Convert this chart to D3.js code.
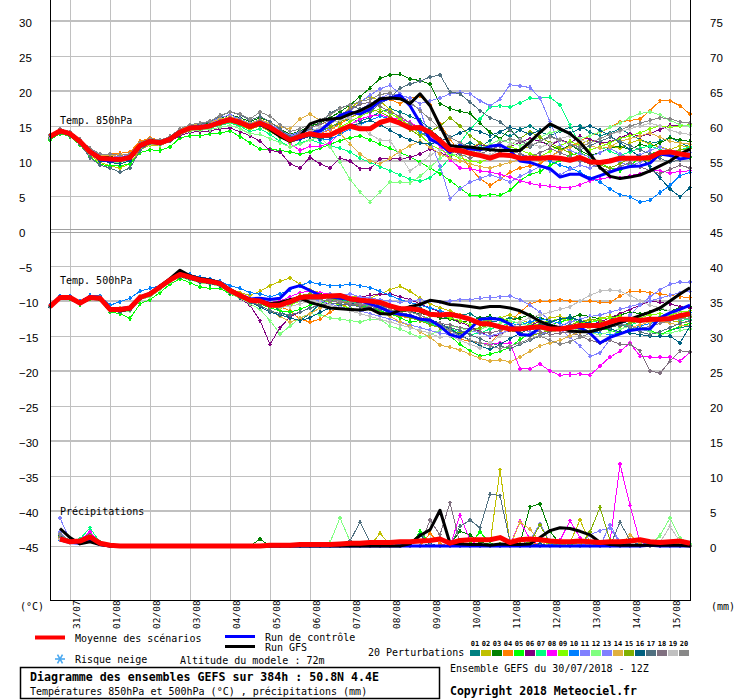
<!DOCTYPE html>
<html>
<head>
<meta charset="utf-8">
<script src="https://cdn.jsdelivr.net/npm/d3@7"></script>
<style>
body { margin: 0; background: #fff; }
svg { display: block; }
text { font-family: "DejaVu Sans Mono", monospace; font-size: 10px; fill: #000; }
</style>
</head>
<body>
<svg id="chart" width="740" height="700"></svg>
<script>
// time steps: every 6h from 30/07 12Z, 384h
var hours = d3.range(0, 385, 6);
var dayTicks = d3.range(12, 384, 24);
var dayLabels = ["31/07","01/08","02/08","03/08","04/08","05/08","06/08","07/08","08/08","09/08","10/08","11/08","12/08","13/08","14/08","15/08"];
var leftTicks = d3.range(30, -50, -5);
var rightTicks = d3.range(75, -5, -5);
var pertNames = d3.range(1, 21).map(function (d) { return d3.format("02d")(d); });
var pertColors = ["#008080","#c0c000","#008000","#ff8000","#00ff00","#800080","#00ff80","#ff00ff","#80ff00","#0080ff",
                  "#8080ff","#80ff80","#8080ff","#e0b040","#80b000","#006080","#507080","#807080","#c0c0c0","#888888"];

// temperature 850hPa (°C)
var t850Mean = [13.5,14.3,13.9,12.8, 11.3,10.4,10.3,10.2, 10.5,12.2,12.8,12.6, 13.1,14.1,14.7,14.8, 15.0,15.5,15.9,15.5, 14.9,15.4,14.8,13.9, 13.0,13.5,13.9,13.6, 13.7,14.4,15.0,14.6, 14.6,15.5,15.9,15.4, 14.7,14.8,14.1,12.9, 11.6,11.5,11.1,10.8, 10.4,10.9,10.8,10.4, 10.4,10.4,10.5,10.4, 10.1,10.5,9.9,9.8, 10.0,10.4,10.4,10.4, 10.5,11.2,11.3,11.0, 10.8];
var t850Ctrl = [13.3,14.4,13.9,12.9, 11.2,10.2,10.0,10.1, 10.3,12.0,12.7,12.5, 13.0,14.0,14.8,14.9, 15.0,15.6,16.0,15.6, 15.0,15.2,14.6,13.6, 12.9,13.2,13.9,14.3, 15.5,16.5,17.0,16.7, 17.4,18.6,19.0,19.4, 17.9,15.5,13.1,12.4, 11.2,12.2,11.7,11.6, 12.1,12.3,11.5,10.0, 9.8,9.3,8.9,7.7, 8.1,8.1,7.4,7.9, 8.4,8.9,9.2,9.3, 9.7,11.0,10.8,10.3, 10.5];
var t850Gfs = [13.4,14.3,13.8,12.7, 11.4,10.5,10.4,10.3, 10.6,12.3,12.9,12.7, 13.2,14.2,14.7,14.8, 15.1,15.6,15.8,15.4, 14.8,15.3,14.5,13.5, 12.8,13.5,15.3,15.8, 16.0,16.1,16.7,17.2, 17.9,18.9,19.0,18.9, 18.2,19.6,17.9,15.0, 12.2,12.0,12.0,11.8, 11.6,11.5,11.5,11.5, 12.7,14.1,15.3,14.6, 13.9,12.7,11.0,9.1, 7.8,7.5,7.7,8.0, 8.6,9.3,10.0,11.0, 11.7];
var t850Pert = [
  [13.4,14.5,14.0,12.9, 11.5,10.6,10.6,10.4, 10.8,12.5,13.2,12.9, 13.4,14.6,15.0,15.1, 15.3,15.8,16.2,15.8, 15.2,15.6,15.0,14.3, 13.6,14.0,14.6,14.2, 14.8,15.4,16.0,15.7, 16.2,17.0,17.5,17.0, 16.4,15.8,14.6,13.2, 12.0,12.2,12.6,12.0, 12.9,14.1,13.5,14.5, 15.0,14.2,13.6,14.3, 14.8,15.0,14.1,13.6, 14.0,14.6,13.8,13.1, 12.5,12.8,13.4,12.6, 12.0],
  [13.2,14.0,13.6,12.4, 10.8,9.8,9.3,9.0, 9.6,11.6,12.3,12.2, 12.8,13.8,14.4,14.6, 14.9,15.2,15.6,15.1, 14.5,15.0,14.2,13.4, 12.6,13.1,13.8,14.5, 15.2,16.4,17.6,18.5, 19.2,18.6,17.3,16.1, 15.0,14.1,13.2,12.6, 12.0,11.4,11.8,12.6, 12.0,11.2,10.9,11.6, 12.1,12.8,12.2,11.6, 12.0,12.4,13.0,12.6, 12.2,11.8,12.6,13.0, 12.4,12.0,11.6,12.2, 12.0],
  [13.6,14.4,14.1,13.0, 11.6,10.7,10.6,10.5, 10.9,12.6,13.1,13.0, 13.5,14.4,15.1,15.2, 15.4,16.1,16.6,16.2, 15.6,16.2,15.6,14.6, 13.8,14.3,15.0,15.4, 16.2,17.0,18.0,19.2, 20.4,21.8,22.3,22.4, 21.7,21.5,21.0,18.2, 17.5,17.1,16.8,15.4, 14.1,13.2,14.5,13.0, 12.1,12.8,12.3,11.6, 12.3,11.5,10.8,11.2, 11.9,12.1,11.6,12.4, 12.0,12.6,13.3,13.0, 12.8],
  [13.5,14.2,13.8,12.9, 11.4,10.8,11.0,11.1, 11.3,12.8,13.3,13.0, 13.2,14.3,14.8,15.0, 15.2,15.7,16.0,15.6, 15.1,15.6,15.0,14.0, 13.2,13.9,14.5,14.0, 14.4,15.3,16.2,16.9, 17.6,18.5,18.8,18.2, 19.0,19.3,18.0,15.3, 13.2,11.0,9.0,7.5, 6.5,7.4,8.4,9.0, 9.3,9.6,10.6,11.5, 12.0,12.8,13.6,14.1, 14.8,15.6,15.8,16.0, 17.2,18.6,18.6,17.9, 16.7],
  [13.0,13.9,13.5,12.3, 10.6,9.5,9.3,9.3, 9.6,11.2,11.6,11.5, 12.0,13.3,13.6,13.6, 13.9,14.0,14.3,13.5, 12.6,11.7,11.7,11.5, 11.3,11.0,11.3,11.8, 12.4,12.9,13.3,13.6, 13.0,12.4,11.8,11.2, 10.6,9.8,9.0,8.2, 7.2,6.1,5.1,5.0, 5.2,5.1,5.8,7.2, 8.1,8.5,9.4,10.1, 10.8,11.2,10.5,9.7, 9.0,8.6,9.5,10.3, 11.0,11.4,10.8,10.2, 10.5],
  [13.4,14.2,13.7,12.6, 11.1,10.2,10.0,9.9, 10.2,11.9,12.4,12.3, 12.8,13.6,14.1,14.2, 14.3,14.6,14.7,14.2, 13.6,12.8,11.5,11.3, 9.6,9.0,10.5,9.6, 9.0,10.4,10.0,8.9, 8.9,10.3,10.3,10.3, 10.5,11.0,11.7,11.2, 10.6,11.2,11.8,12.4, 11.9,11.4,12.0,12.7, 13.2,12.8,12.2,13.0, 12.6,13.5,13.1,12.6, 12.7,13.3,13.9,13.5, 13.9,14.5,15.1,15.0, 15.1],
  [13.3,14.3,13.9,12.8, 11.2,10.1,9.9,9.8, 10.1,12.0,12.7,12.4, 12.9,13.9,14.4,14.5, 14.7,15.1,15.4,15.0, 14.2,14.6,13.8,12.8, 12.0,12.6,13.0,12.6, 12.2,11.8,11.3,10.4, 9.8,9.2,8.6,8.0, 7.4,7.1,7.6,8.8, 10.5,12.6,14.5,16.0, 17.7,17.9,17.7,18.3, 19.0,19.0,19.1,18.0, 15.2,12.2,11.6,12.0, 11.4,10.8,11.3,11.8, 12.2,11.6,11.0,11.6, 12.0],
  [13.6,14.4,13.9,12.8, 11.3,10.5,10.4,10.3, 10.6,12.3,12.9,12.8, 13.2,14.3,14.9,15.0, 15.2,15.8,16.3,15.8, 15.1,15.7,14.9,13.6, 12.5,11.5,12.1,12.1, 12.6,14.0,15.2,16.0, 16.4,16.6,16.2,16.0, 15.5,14.8,13.6,12.2, 10.2,9.0,8.9,8.6, 8.4,8.1,7.7,7.2, 6.8,6.5,6.4,6.2, 6.2,6.6,7.2,7.4, 7.7,7.6,7.9,8.2, 8.6,8.6,8.3,8.5, 8.6],
  [13.4,14.3,13.9,12.7, 11.2,10.4,10.2,10.0, 10.3,12.1,12.6,12.5, 13.0,14.0,14.5,14.6, 14.8,15.4,15.7,15.3, 14.7,15.0,14.6,13.6, 12.6,13.2,13.6,13.2, 13.6,14.8,15.6,16.4, 17.0,17.4,16.8,16.0, 15.0,13.8,12.4,11.6, 11.0,10.4,10.0,9.8, 10.4,11.2,12.0,11.6, 11.0,10.6,11.4,12.2, 12.8,12.2,11.6,12.0, 12.6,13.2,13.6,14.0, 14.6,15.0,14.8,15.0, 15.2],
  [13.5,14.3,14.0,12.9, 11.4,10.5,10.4,10.2, 10.5,12.3,12.9,12.6, 13.1,14.2,14.8,14.9, 15.1,15.6,16.1,15.6, 15.0,15.5,14.9,13.8, 12.9,13.3,13.7,13.0, 13.1,13.8,14.6,15.2, 15.8,16.4,16.0,15.6, 15.0,14.2,13.2,12.4, 12.1,12.3,11.8,12.0, 11.7,11.2,11.6,11.0, 10.2,10.6,10.0,9.4, 9.0,8.4,7.6,7.0, 6.0,5.2,4.9,4.1, 4.4,5.5,6.5,7.9, 8.4],
  [13.6,14.6,14.2,13.1, 11.8,10.8,10.8,10.6, 10.9,12.5,13.0,12.9, 13.5,14.4,15.0,15.3, 15.6,16.2,16.6,16.0, 15.4,15.9,15.3,14.4, 13.7,14.2,14.6,14.5, 14.8,15.6,16.4,17.4, 18.2,19.0,19.6,19.4, 19.0,18.2,18.6,19.0, 19.6,19.8,19.6,18.6, 17.9,18.8,20.9,20.7, 20.5,19.0,15.6,12.2, 11.5,11.0,10.6,11.2, 11.8,11.0,10.4,10.9, 11.5,12.0,11.4,11.0, 11.2],
  [13.3,14.1,13.7,12.6, 11.0,10.1,9.9,9.8, 10.1,11.8,12.4,12.3, 12.8,13.8,14.3,14.4, 14.5,14.8,15.1,14.6, 13.9,13.8,13.2,12.6, 12.0,12.4,13.0,13.4, 12.0,9.8,7.4,5.6, 4.1,5.6,7.0,7.0, 6.9,7.8,9.1,10.4, 11.2,10.6,11.0,11.8, 12.4,13.0,12.6,12.2, 12.8,13.4,14.0,14.4, 13.8,13.2,13.6,14.2, 14.8,15.4,16.2,16.8, 17.0,16.6,15.8,15.2, 15.0],
  [13.7,14.6,14.1,13.0, 11.6,10.6,10.5,10.4, 10.7,12.4,13.0,12.8, 13.3,14.3,14.9,15.1, 15.3,15.9,16.4,15.9, 15.3,15.8,15.2,14.2, 13.5,14.0,14.4,14.0, 14.6,15.8,17.0,18.4, 19.4,20.3,20.8,19.6, 18.2,17.4,13.0,9.3, 4.6,6.0,7.0,7.5, 8.0,7.6,7.0,7.8, 8.5,9.2,8.6,8.0, 8.8,9.4,9.0,9.6, 10.2,9.8,9.3,9.8, 10.4,10.9,11.3,11.6, 11.8],
  [13.5,14.4,14.0,12.9, 11.5,10.7,10.8,10.9, 11.0,12.5,13.0,12.9, 13.4,14.5,15.1,15.3, 15.5,16.0,16.3,15.9, 15.3,15.9,15.4,14.9, 14.6,16.0,16.7,15.8, 15.1,14.0,12.4,11.0, 10.0,9.6,10.4,11.4, 12.2,12.8,12.0,11.0, 10.4,10.0,9.6,9.2, 9.0,9.4,9.8,10.2, 10.4,10.0,10.6,11.4, 12.0,12.6,12.2,11.8, 12.0,12.8,13.2,13.6, 14.0,13.4,12.8,12.6, 12.4],
  [13.4,14.2,13.8,12.7, 11.3,10.3,10.1,10.0, 10.3,12.0,12.6,12.4, 12.9,13.9,14.5,14.6, 14.9,15.3,15.7,15.3, 14.8,15.2,14.5,13.5, 12.8,13.3,14.0,14.4, 14.8,15.6,16.2,16.8, 17.5,17.0,16.3,15.4, 14.5,13.6,14.2,15.0, 16.2,15.0,13.6,12.6, 12.0,11.4,12.2,13.2, 14.2,13.4,12.6,11.8, 11.2,10.6,9.8,9.4, 9.0,9.6,10.4,10.2, 10.0,10.6,11.2,11.6, 11.8],
  [13.5,14.3,13.8,12.7, 11.1,10.0,9.8,9.6, 10.0,11.9,12.6,12.5, 13.0,14.1,14.7,14.8, 15.0,15.4,15.8,15.4, 14.8,15.2,14.6,13.7, 12.8,13.1,13.5,13.2, 13.4,14.2,15.0,15.4, 15.8,15.2,14.4,13.6, 13.0,12.6,12.4,12.8, 13.4,14.0,14.6,14.2, 13.6,14.2,14.8,14.4, 13.8,14.4,15.0,14.6, 14.0,14.6,15.0,14.4, 13.6,12.6,11.6,10.6, 9.2,7.6,6.0,4.9, 6.2],
  [13.2,14.0,13.6,12.4, 10.5,9.4,9.0,8.4, 9.0,11.5,12.6,12.4, 12.8,14.3,15.0,15.2, 15.6,16.4,17.0,16.6, 15.8,16.4,15.6,14.6, 13.4,13.8,14.6,15.4, 16.8,17.6,18.0,17.4, 17.0,18.2,19.0,20.4, 21.0,21.4,22.0,22.3, 19.9,19.6,18.4,17.2, 16.2,15.6,14.4,13.2, 12.0,12.8,13.6,13.0, 12.4,11.6,12.2,12.8, 13.4,12.8,12.2,11.6, 11.0,10.4,9.8,10.2, 10.6],
  [13.6,14.5,14.0,12.9, 11.4,10.5,10.3,10.2, 10.5,12.2,12.8,12.7, 13.2,14.2,14.8,15.0, 15.2,15.7,16.2,15.8, 15.2,15.8,15.1,14.0, 13.2,14.0,14.8,15.2, 15.8,16.6,17.4,18.1, 18.4,17.8,17.0,16.4, 15.4,14.6,13.6,12.6, 11.6,11.0,10.4,11.0, 11.6,12.2,11.6,11.0, 10.6,11.2,11.8,11.2, 10.6,10.0,9.6,9.0, 8.6,9.2,9.8,9.2, 8.6,8.2,8.8,9.4, 9.0],
  [13.5,14.3,13.9,12.8, 11.2,10.3,10.2,10.1, 10.4,12.1,12.7,12.6, 13.1,14.1,14.6,14.7, 14.9,15.4,15.8,15.4, 14.8,15.3,14.7,13.8, 13.0,13.6,14.2,14.8, 15.4,15.8,16.2,15.0, 13.8,13.0,12.9,10.8, 8.6,9.6,10.8,11.6, 12.0,12.6,11.8,11.2, 10.8,11.6,12.4,13.0, 12.6,12.0,12.4,13.2, 13.6,13.0,12.6,13.2, 13.8,14.2,14.6,15.0, 15.4,15.0,14.4,14.0, 13.8],
  [13.7,14.6,14.2,13.1, 11.8,11.0,11.0,10.8, 11.0,12.6,13.2,13.0, 13.5,14.6,15.2,15.4, 15.7,16.5,17.0,16.7, 16.0,17.0,16.4,15.2, 14.2,14.6,15.2,15.8, 16.6,17.5,18.0,18.5, 18.8,19.5,19.7,19.1, 18.4,17.2,16.0,14.6, 13.4,12.6,12.0,11.6, 12.0,12.6,13.2,12.8, 12.2,12.8,13.4,13.0, 12.4,12.0,12.6,13.2, 13.8,14.4,15.0,15.4, 15.8,16.2,16.0,15.6, 15.4]
];

// temperature 500hPa (°C)
var t500Mean = [-10.8,-9.5,-9.5,-10.3, -9.5,-9.6,-11.2,-11.2, -11.0,-9.5,-9.0,-8.0, -7.0,-6.2,-6.6,-7.0, -7.2,-7.5,-8.5,-9.2, -9.9,-10.0,-10.6,-10.6, -10.1,-9.5,-9.4,-9.4, -9.3,-9.2,-9.7,-9.9, -10.0,-10.2,-10.7,-11.1, -11.1,-11.3,-11.9,-12.0, -11.9,-12.2,-12.6,-13.2, -13.3,-13.7,-14.0,-14.0, -13.8,-13.7,-14.0,-14.0, -13.8,-13.5,-13.5,-13.5, -13.0,-12.6,-12.6,-12.8, -12.6,-12.6,-12.5,-12.1, -11.8];
var t500Ctrl = [-10.8,-9.4,-9.5,-10.2, -9.4,-9.5,-11.1,-11.1, -10.9,-9.4,-8.9,-7.9, -6.9,-6.1,-6.5,-6.9, -7.1,-7.4,-8.4,-9.1, -9.7,-9.6,-9.8,-9.6, -8.2,-7.8,-8.5,-9.2, -9.4,-9.6,-9.8,-10.0, -10.4,-10.9,-11.6,-11.9, -12.1,-12.6,-12.7,-13.6, -14.8,-15.2,-14.0,-12.6, -12.5,-12.6,-13.3,-14.8, -14.9,-13.8,-13.6,-14.0, -13.8,-13.8,-14.6,-16.0, -15.2,-14.7,-14.2,-14.0, -14.0,-12.4,-11.7,-11.2, -10.6];
var t500Gfs = [-10.9,-9.5,-9.6,-10.4, -9.6,-9.7,-11.3,-11.4, -11.1,-9.6,-9.0,-7.9, -6.8,-5.6,-6.4,-6.8, -7.0,-7.4,-8.4,-9.2, -9.8,-10.0,-10.4,-10.2, -9.8,-9.6,-10.2,-10.6, -11.0,-11.1,-11.2,-11.3, -11.1,-11.8,-11.9,-11.3, -10.8,-10.5,-9.9,-10.1, -10.5,-10.6,-10.8,-11.0, -10.8,-10.8,-11.0,-11.4, -12.1,-12.9,-13.5,-13.8, -14.3,-14.4,-14.4,-14.0, -13.6,-13.1,-12.6,-12.1, -11.6,-11.0,-10.0,-9.0, -8.1];
var t500Pert = [
  [-10.6,-9.4,-9.4,-10.2, -9.3,-9.4,-11.0,-11.0, -10.8,-9.3,-8.8,-7.9, -6.8,-6.0,-6.4,-6.9, -7.0,-7.4,-8.4,-9.1, -9.6,-9.8,-10.4,-11.4, -12.4,-12.8,-11.8,-10.4, -9.8,-9.4,-9.6,-10.0, -10.2,-10.6,-11.0,-11.2, -10.8,-11.0,-11.6,-12.2, -12.4,-12.0,-11.8,-12.6, -13.0,-12.8,-12.4,-12.6, -13.2,-13.6,-13.0,-12.6, -12.2,-12.8,-13.4,-13.0, -12.4,-12.8,-13.4,-14.0, -14.4,-14.8,-14.2,-13.8, -13.6],
  [-10.9,-9.6,-9.5,-10.4, -9.6,-9.8,-11.4,-11.5, -11.3,-9.8,-9.2,-8.2, -7.2,-6.4,-6.8,-7.2, -7.4,-7.6,-8.2,-8.8, -9.2,-8.6,-7.8,-7.2, -6.7,-7.6,-8.4,-8.8, -9.0,-9.2,-9.4,-9.4, -9.6,-9.0,-8.4,-7.9, -8.6,-9.6,-10.4,-11.0, -11.4,-12.0,-12.6,-13.0, -12.8,-12.4,-12.0,-12.6, -13.2,-12.8,-12.4,-12.2, -12.6,-13.0,-12.8,-12.4, -12.2,-12.6,-13.0,-12.8, -12.6,-12.4,-12.8,-13.0, -13.2],
  [-10.7,-9.5,-9.4,-10.2, -9.4,-9.5,-11.1,-11.2, -11.0,-9.6,-9.1,-8.2, -7.1,-6.3,-6.6,-7.0, -7.2,-7.6,-8.6,-9.3, -10.0,-10.2,-10.8,-10.8, -10.2,-9.6,-9.2,-9.0, -9.2,-9.4,-9.8,-10.0, -10.4,-10.8,-11.0,-11.4, -11.6,-11.8,-12.0,-12.4, -12.6,-13.0,-12.8,-12.4, -12.2,-12.6,-12.8,-12.4, -12.0,-12.4,-12.8,-12.6, -12.4,-12.0,-12.2,-12.6, -12.4,-12.0,-11.6,-11.8, -11.6,-11.2,-11.4,-11.0, -10.8],
  [-10.8,-9.4,-9.5,-10.3, -9.4,-9.5,-11.2,-11.0, -10.9,-9.4,-8.9,-7.9, -6.9,-6.1,-6.5,-6.9, -7.0,-7.3,-8.3,-9.0, -9.7,-9.9,-10.5,-10.8, -11.4,-12.6,-13.0,-12.6, -11.6,-10.8,-10.4,-10.6, -11.0,-11.4,-11.8,-12.2, -12.4,-12.6,-13.2,-13.8, -14.6,-15.4,-15.8,-16.0, -16.0,-14.6,-13.0,-11.6, -10.4,-10.0,-10.0,-9.8, -10.0,-10.0,-10.0,-10.2, -10.2,-9.3,-8.6,-8.6, -8.8,-9.0,-9.2,-9.4, -9.5],
  [-10.9,-9.6,-9.7,-10.5, -9.7,-9.9,-11.6,-11.8, -12.5,-10.4,-9.8,-8.8, -7.6,-6.8,-7.4,-8.0, -8.2,-8.2,-9.0,-9.6, -9.9,-10.4,-11.0,-11.4, -11.6,-11.2,-10.6,-10.4, -10.0,-9.8,-10.2,-10.6, -11.0,-11.4,-11.8,-12.4, -13.0,-12.8,-13.0,-13.6, -15.0,-16.2,-17.1,-17.9, -17.6,-17.2,-16.6,-15.5, -14.6,-13.8,-13.4,-13.0, -12.6,-13.0,-13.4,-13.8, -14.2,-14.6,-14.0,-13.6, -14.2,-14.8,-14.2,-13.6, -13.2],
  [-10.8,-9.5,-9.6,-10.4, -9.5,-9.6,-11.3,-11.3, -11.1,-9.6,-9.1,-8.1, -7.1,-6.4,-6.8,-7.1, -7.4,-7.8,-8.8,-9.6, -10.6,-12.8,-16.2,-13.8, -12.3,-11.6,-11.0,-10.6, -10.2,-9.8,-9.6,-9.4, -9.2,-9.0,-9.0,-9.4, -9.8,-10.4,-11.0,-11.6, -12.4,-13.0,-13.6,-14.4, -15.1,-14.8,-14.2,-13.8, -13.4,-13.0,-13.4,-13.8, -13.6,-13.2,-13.4,-13.0, -12.4,-11.8,-11.2,-10.6, -10.0,-10.2,-10.4,-10.8, -11.0],
  [-10.7,-9.4,-9.4,-10.2, -9.4,-9.5,-11.1,-11.1, -10.9,-9.5,-8.9,-8.0, -6.9,-6.2,-6.5,-6.9, -7.1,-7.4,-8.4,-9.1, -9.8,-10.0,-10.6,-10.6, -10.2,-9.6,-9.4,-9.5, -9.6,-9.8,-10.0,-10.4, -10.8,-11.0,-11.4,-11.8, -12.2,-12.8,-13.2,-13.8, -14.0,-14.4,-14.8,-14.6, -14.0,-13.6,-13.2,-13.0, -13.4,-13.8,-14.2,-14.0, -13.6,-13.4,-13.0,-12.8, -13.2,-13.6,-13.4,-13.0, -12.6,-12.2,-12.4,-12.8, -12.6],
  [-10.8,-9.6,-9.5,-10.3, -9.5,-9.6,-11.2,-11.2, -11.0,-9.5,-9.0,-8.0, -7.0,-6.2,-6.6,-7.0, -7.2,-7.5,-8.5,-9.2, -9.8,-9.8,-10.2,-10.0, -9.4,-8.8,-8.6,-8.8, -9.0,-9.2,-9.4,-9.6, -9.8,-10.2,-10.6,-11.0, -11.4,-12.0,-12.8,-13.4, -14.2,-15.0,-15.6,-16.0, -16.2,-16.0,-16.0,-19.7, -19.7,-19.0,-20.0,-20.6, -20.5,-20.4,-20.6,-19.3, -18.0,-17.2,-16.0,-17.9, -18.0,-18.0,-18.0,-18.6, -17.3],
  [-10.7,-9.5,-9.5,-10.3, -9.5,-9.6,-11.2,-11.4, -11.2,-9.6,-9.2,-8.1, -7.0,-6.3,-6.7,-7.1, -7.3,-7.6,-8.6,-9.3, -10.0,-10.2,-10.8,-11.0, -10.6,-10.0,-9.6,-9.8, -10.2,-10.6,-11.0,-11.4, -11.2,-11.0,-11.4,-11.8, -12.4,-12.6,-12.2,-12.0, -12.4,-12.8,-13.4,-13.0, -12.6,-12.4,-12.8,-13.2, -13.6,-13.2,-12.8,-12.6, -12.8,-13.2,-13.0,-12.6, -12.4,-12.2,-12.6,-12.4, -12.0,-11.8,-12.0,-11.6, -11.4],
  [-10.6,-9.3,-9.3,-10.0, -9.2,-9.3,-10.6,-10.1, -9.6,-8.6,-8.2,-7.8, -6.8,-5.8,-6.2,-6.6, -6.8,-7.2,-7.8,-8.2, -8.8,-9.0,-9.4,-9.0, -8.4,-7.8,-7.3,-7.6, -7.8,-7.8,-7.6,-7.8, -8.1,-8.6,-9.2,-9.8, -10.2,-10.6,-11.0,-11.4, -11.8,-12.2,-12.6,-12.8, -12.4,-12.8,-13.2,-13.4, -13.0,-12.6,-12.8,-13.2, -13.6,-14.0,-14.4,-14.6, -14.8,-14.6,-14.0,-13.6, -13.2,-12.8,-12.4,-12.0, -11.6],
  [-10.7,-9.4,-9.4,-10.2, -9.4,-9.5,-11.1,-11.1, -10.9,-9.4,-8.9,-7.9, -6.9,-6.1,-6.5,-6.9, -7.1,-7.4,-8.4,-9.1, -9.7,-9.8,-10.3,-10.4, -10.0,-9.6,-9.4,-9.2, -9.0,-9.2,-9.0,-9.4, -9.6,-9.8,-10.0,-10.2, -10.0,-9.8,-10.0,-10.2, -10.0,-9.8,-9.8,-9.6, -9.5,-9.4,-9.3,-9.8, -10.6,-11.6,-12.8,-14.0, -15.2,-16.4,-17.9,-17.4, -15.5,-13.6,-12.0,-10.6, -9.4,-8.4,-7.6,-7.3, -7.3],
  [-10.9,-9.6,-9.6,-10.4, -9.6,-9.8,-11.4,-11.6, -11.4,-9.8,-9.4,-8.4, -7.3,-6.6,-7.0,-7.4, -7.6,-7.9,-8.9,-9.6, -10.4,-11.2,-12.8,-14.7, -13.6,-12.4,-11.8,-12.0, -12.4,-12.6,-12.8,-13.0, -12.6,-12.6,-13.6,-14.0, -14.6,-15.2,-14.8,-14.2, -13.6,-13.8,-14.4,-14.0, -13.6,-13.2,-12.8,-13.2, -13.6,-14.0,-14.4,-14.2, -13.8,-14.2,-14.6,-14.8, -14.4,-14.0,-13.6,-14.0, -14.4,-14.8,-14.6,-14.2, -14.0],
  [-10.8,-9.5,-9.5,-10.3, -9.5,-9.7,-11.3,-11.3, -11.1,-9.6,-9.1,-8.1, -7.1,-6.3,-6.7,-7.1, -7.3,-7.6,-8.6,-9.3, -10.0,-10.2,-10.8,-10.6, -9.8,-9.4,-9.6,-10.0, -10.4,-10.8,-11.2,-11.4, -11.8,-12.2,-12.6,-13.0, -13.4,-13.8,-14.2,-14.6, -14.8,-14.4,-14.2,-14.6, -15.0,-14.6,-14.2,-14.0, -14.4,-14.8,-14.2,-13.6, -13.0,-12.6,-12.2,-12.0, -11.6,-11.2,-10.8,-10.4, -10.0,-9.6,-9.2,-8.8, -8.6],
  [-10.7,-9.4,-9.4,-10.2, -9.4,-9.5,-11.1,-11.0, -10.8,-9.3,-8.8,-7.9, -6.9,-6.2,-6.6,-7.0, -7.2,-7.5,-8.5,-9.2, -10.0,-10.6,-11.4,-12.2, -13.0,-12.5,-11.8,-11.0, -10.4,-10.2,-10.4,-10.8, -11.0,-11.6,-12.2,-13.0, -13.6,-14.4,-15.2,-16.3, -16.6,-17.0,-17.6,-18.2, -18.6,-18.4,-18.7,-18.0, -17.2,-16.4,-16.0,-15.6, -15.0,-14.4,-13.8,-13.4, -13.0,-13.4,-13.8,-13.4, -13.0,-12.8,-13.2,-13.4, -13.6],
  [-10.8,-9.5,-9.5,-10.3, -9.5,-9.6,-11.2,-11.2, -11.0,-9.5,-9.0,-8.0, -7.0,-6.2,-6.6,-7.0, -7.2,-7.5,-8.5,-9.2, -9.9,-10.1,-10.7,-10.4, -9.8,-9.2,-9.0,-9.2, -9.6,-10.0,-10.4,-10.8, -11.2,-11.6,-11.8,-12.0, -12.4,-12.8,-13.4,-13.8, -14.2,-14.6,-14.2,-13.8, -13.4,-13.8,-14.2,-14.6, -15.0,-14.6,-14.2,-13.8, -13.4,-13.0,-12.6,-12.8, -13.2,-13.6,-13.2,-12.8, -12.4,-12.6,-12.8,-12.4, -12.2],
  [-10.9,-9.6,-9.6,-10.4, -9.6,-9.7,-11.3,-11.4, -11.2,-9.7,-9.2,-8.2, -7.2,-6.5,-6.9,-7.3, -7.5,-7.8,-8.8,-9.5, -10.2,-10.8,-11.6,-12.0, -12.4,-12.8,-12.4,-11.6, -11.0,-10.6,-10.4,-10.2, -10.0,-10.4,-10.8,-11.0, -11.4,-12.0,-12.6,-13.2, -14.0,-14.8,-15.6,-16.4, -16.9,-16.2,-15.4,-14.6, -14.0,-13.4,-13.0,-12.6, -12.4,-12.8,-13.2,-13.6, -14.0,-14.4,-14.6,-14.8, -15.0,-15.0,-15.0,-16.0, -13.6],
  [-10.8,-9.6,-9.6,-10.4, -9.6,-9.7,-11.4,-11.6, -11.3,-9.7,-9.1,-8.1, -7.1,-6.4,-6.8,-7.2, -7.4,-7.7,-8.7,-9.4, -10.2,-10.6,-11.4,-11.8, -12.0,-11.6,-11.0,-10.6, -10.4,-10.4,-10.6,-10.8, -11.0,-11.2,-11.4,-11.8, -12.2,-12.6,-13.0,-13.4, -13.8,-14.2,-14.8,-15.4, -16.0,-16.4,-16.8,-16.2, -15.6,-15.0,-14.4,-13.8, -13.4,-14.0,-14.6,-14.2, -13.8,-13.4,-13.8,-14.4, -14.8,-14.4,-13.8,-13.2, -12.8],
  [-10.7,-9.5,-9.5,-10.3, -9.5,-9.6,-11.2,-11.3, -11.1,-9.6,-9.1,-8.1, -7.0,-6.3,-6.7,-7.1, -7.3,-7.6,-8.6,-9.3, -10.0,-10.2,-10.8,-10.8, -10.4,-10.0,-9.8,-9.8, -10.0,-10.2,-10.4,-10.6, -10.8,-11.0,-11.2,-11.6, -12.0,-12.4,-12.8,-13.2, -13.4,-13.8,-14.0,-14.4, -14.6,-14.2,-13.8,-13.6, -14.0,-14.4,-14.8,-14.6, -14.4,-15.0,-15.6,-16.0, -15.6,-16.2,-16.2,-17.1, -20.0,-20.3,-18.6,-17.1, -17.3],
  [-10.8,-9.5,-9.5,-10.3, -9.5,-9.6,-11.2,-11.2, -11.0,-9.5,-9.0,-8.0, -7.0,-6.2,-6.6,-7.0, -7.2,-7.5,-8.5,-9.2, -9.9,-10.1,-10.7,-10.9, -10.8,-10.4,-10.0,-10.2, -10.6,-11.0,-11.4,-11.8, -12.2,-12.6,-13.0,-13.4, -13.8,-14.2,-14.6,-15.2, -15.0,-15.6,-16.2,-16.7, -16.0,-15.0,-14.0,-13.0, -12.4,-12.0,-11.6,-11.2, -10.8,-10.0,-9.2,-8.6, -8.4,-8.6,-9.2,-10.0, -10.6,-11.0,-11.4,-11.8, -12.0],
  [-10.7,-9.4,-9.4,-10.2, -9.4,-9.5,-11.1,-11.1, -10.9,-9.4,-8.9,-7.9, -6.9,-6.1,-6.5,-6.9, -7.1,-7.4,-8.4,-9.1, -9.8,-10.0,-10.6,-10.6, -10.2,-9.8,-9.6,-9.6, -9.8,-10.0,-10.2,-10.4, -10.6,-10.8,-11.0,-11.2, -11.6,-12.0,-12.6,-13.4, -14.2,-15.0,-15.6,-16.0, -16.4,-16.8,-16.4,-16.0, -15.4,-15.0,-15.6,-16.2, -15.8,-15.2,-14.6,-14.0, -13.6,-13.2,-13.6,-14.0, -13.6,-13.2,-12.8,-12.6, -12.4]
];

// precipitation per 6h (mm), no value at the analysis time
var rrMean = [null,1.0,0.6,0.7, 1.3,0.4,0.1,0, 0,0,0,0, 0,0,0,0, 0,0,0,0, 0,0,0.1,0.1, 0.1,0.2,0.2,0.2, 0.2,0.3,0.4,0.4, 0.5,0.5,0.5,0.6, 0.6,0.7,0.8,1.0, 0.4,0.8,0.9,0.9, 0.9,1.2,0.5,0.9, 1.0,0.9,0.7,0.6, 0.6,0.7,0.6,0.5, 0.6,0.6,0.7,0.9, 0.6,0.5,0.6,0.7, 0.4];
var rrCtrl = [null,0.9,0.5,0.4, 0.8,0.2,0,0, 0,0,0,0, 0,0,0,0, 0,0,0,0, 0,0,0,0, 0,0,0,0, 0,0,0,0, 0,0,0,0, 0,0,0,0, 0,0,0,0, 0,0,0,0, 0,0,0,0, 0,0,0,0, 0,0,0,0, 0.1,0,0,0, 0];
var rrGfs = [null,2.5,1.2,0.3, 0.6,0.2,0,0, 0,0,0,0, 0,0,0,0, 0,0,0,0, 0,0,0,0, 0,0,0,0, 0,0,0,0, 0,0,0,0, 0.3,1.5,2.3,5.1, 0.4,0.3,0.2,0.2, 0.1,0.3,0.2,0.2, 0.3,1.2,2.2,2.6, 2.5,2.1,1.6,0.5, 0.2,0.1,0.1,0.1, 0.1,0.1,0.1,0.1, 0];
var rrPert = [
  [null,1.8,0.6,0.7, 1.2,0.2,0,0, 0,0,0,0, 0,0,0,0, 0,0,0,0, 0,0,0,0, 0,0,0,0, 0,0,0,0, 0,0,0,0, 0,0,0.2,0, 0,0,0,0.3, 0.2,0,0,0, 0,0.3,0,0, 0,0,0,0.2, 0,0,0,0, 0.3,0,0.4,0.2, 0],
  [null,1.4,0.5,0.9, 1.6,0.3,0,0, 0,0,0,0, 0,0,0,0, 0,0,0,0, 0,0,0,0, 0,0,0,0, 0,0,0,0, 0,1.8,0.2,0, 0,0,0,0, 0,0,0.3,0, 0.2,10.9,0.4,0, 0,0.2,0.3,0, 0.5,3.7,0.5,0, 0,0,0,0, 0,0,0,0, 0],
  [null,1.2,0.4,0.6, 1.4,0.2,0,0, 0,0,0,0, 0,0,0,0, 0,0,0,0, 0,1.0,0,0, 0,0,0,0, 0,0,0,0, 0,0,0,0, 0,0,0.3,0, 0.2,2.1,1.6,0.5, 0.3,0.2,0,0.4, 5.6,6.0,2.1,0.3, 0,0,0,0, 0,0.2,0,0, 0,0,0.3,0.5, 0],
  [null,1.0,0.7,0.5, 1.0,0.3,0,0, 0,0,0,0, 0,0,0,0, 0,0,0,0, 0,0,0,0, 0,0,0,0, 0,0,0,0, 0,0,0,0, 0,0,1.8,0.3, 0,0,0,0, 0.2,0,0,0.3, 0.6,0.2,0,0, 0,0,0.4,0.2, 0,0,0,0, 0.2,0.4,0.3,0, 0],
  [null,1.3,0.6,0.8, 1.8,0.4,0,0, 0,0,0,0, 0,0,0,0, 0,0,0,0, 0,0,0,0, 0,0,0,0, 0,0,0,0, 0,0,0,0.3, 0,2.1,0.3,0, 0,0.5,0.3,2.0, 0.4,0,0,0.2, 0,0,0.3,0, 0.2,0.4,0.3,0, 0,0,0,0, 0,0,0.4,0.3, 0],
  [null,1.1,0.5,0.6, 1.1,0.2,0,0, 0,0,0,0, 0,0,0,0, 0,0,0,0, 0,0,0,0, 0,0,0,0, 0,0,0,0, 0,0,0,0, 0,0,0,0, 0,0,0.2,0, 0,0,0,0, 0.3,0,0,0, 0,0,0,0, 0,0.3,0.5,0.8, 0.4,0,0,0, 0],
  [null,1.6,0.5,1.0, 2.6,0.5,0,0, 0,0,0,0, 0,0,0,0, 0,0,0,0, 0,0,0,0, 0,0,0,0, 0,0,0,0, 0,0,0,0, 0,0,0,0, 0,0,0,0, 0,0.3,0,0.2, 0,0,0,0.2, 0,0,0.2,0, 0,0,0,0, 0,0,0.2,0, 0],
  [null,1.2,0.6,0.9, 2.0,0.4,0,0, 0,0,0,0, 0,0,0,0, 0,0,0,0, 0,0,0,0, 0,0,0,0, 0,0,0,0, 0,0,0,0, 0,0,0,0, 0,4.4,0.8,0, 0,0,0.2,3.5, 1.0,0,0.3,0.8, 3.6,1.2,0.2,0, 0.5,11.7,5.8,0.6, 0,0.3,0,0, 0],
  [null,1.0,0.5,0.7, 1.3,0.2,0,0, 0,0,0,0, 0,0,0,0, 0,0,0,0, 0,0,0,0, 0,0,0,0, 0,0,0,0, 0,0,0,0, 0,0,0,0, 0,0.2,0,0, 0,0.3,0,0, 0.2,0,0.5,0.3, 0,0,0,0, 0.3,0,0,0, 0.2,0,0,0, 0],
  [null,0.8,0.4,0.6, 1.0,0.2,0,0, 0,0,0,0, 0,0,0,0, 0,0,0,0, 0,0,0,0, 0,0,0,0, 0,0,0,0.3, 0.4,0.5,0,0.2, 0,0,0,0, 0,0,0.2,0, 0,0,0,0, 0,0.2,0.3,0, 0,0,0,0, 0,0,0,0.5, 0.3,0,0,0, 0],
  [null,4.0,0.8,0.7, 1.5,0.3,0,0, 0,0,0,0, 0,0,0,0, 0,0,0,0, 0,0,0,0, 0,0,0,0, 0,0,0,0, 0,0,0,0, 0,0,0,0, 0,0,0,0, 0.2,0,0,0, 0.8,3.2,0.5,0, 0,0.3,0,0, 3.0,0.6,0,0, 0,0,0,0, 0],
  [null,1.1,0.6,0.6, 1.4,0.3,0,0, 0,0,0,0, 0,0,0,0, 0,0,0,0, 0,0,0,0, 0,0,0,0, 0.5,4.0,0.7,0, 0,0,0,0, 0,0,0,0, 0,0,0,0, 0,0,0,0.3, 0,0,0,0, 0,0,0,0, 0,0,0,0, 0,1.5,4.0,1.2, 0.3],
  [null,2.0,0.6,0.6, 1.2,0.2,0,0, 0,0,0,0, 0,0,0,0, 0,0,0,0, 0,0,0,0, 0,0,0,0, 0,0,0,0, 0,0,0,0, 0,0,0,0, 0,0,0,0, 0,0,0,0.4, 0,0,0,0, 0,0,1.6,2.2, 2.6,0.4,0,0, 0,0,0,0, 0],
  [null,1.0,0.5,0.8, 1.2,0.3,0,0, 0,0,0,0, 0,0,0,0, 0,0,0,0, 0,0,0,0, 0,0,0,0, 0,0,0,0, 0,0,0,0, 0,0,0,0, 0,0,0,0, 0,0,0,3.4, 2.4,0.6,0,0, 0,0.4,0.2,0, 0,0,1.6,0.3, 0,0,0,0, 0],
  [null,1.3,0.5,0.7, 1.2,0.2,0,0, 0,0,0,0, 0,0,0,0, 0,0,0,0, 0,0,0,0, 0,0,0,0, 0,0,0,0, 0,0,0,0, 0,0,0,0, 0,0,0,0, 0,0,0,0.3, 0.5,3.0,0.4,0, 0,0,2.0,5.5, 0.8,0,0,0, 0,0,0.6,0.2, 0],
  [null,1.5,0.7,0.8, 1.3,0.3,0,0, 0,0,0,0, 0,0,0,0, 0,0,0,0, 0,0,0,0, 0,0,0,0, 0,0,0,0, 0,0,0,0, 0,1.6,0.3,0, 0,0,0,0, 0,0,0,0, 0,0.3,0,0, 0,0,0,0.3, 0,0,0.5,0.8, 0.6,0.4,0.2,0, 0],
  [null,1.6,0.7,0.9, 1.5,0.3,0,0, 0,0,0,0, 0,0,0,0, 0,0,0,0, 0,0,0,0, 0,0,0,0, 0,0,0.7,3.4, 0.6,0,0,0, 0,0,0,0, 0,2.8,3.7,2.6, 7.4,7.2,0.6,0, 0,0,0,0, 0,0,0,0, 0,3.4,0.8,0, 0,0,0,0, 0],
  [null,1.2,0.6,0.7, 1.1,0.2,0,0, 0,0,0,0, 0,0,0,0, 0,0,0,0, 0,0,0,0, 0,0,0,0, 0,0,0,0, 0,0,0,0, 0,0,3.7,1.6, 6.2,0.3,0,0, 0,0,0,0, 0,0,0,0, 0,0,0,0, 0,0,0,0, 0,0,0,0, 0],
  [null,0.9,0.5,0.5, 0.9,0.2,0,0, 0,0,0,0, 0,0,0,0, 0,0,0,0, 0,0,0,0, 0,0,0,0, 0,0,0,0, 0,0,0,0, 0,0,0,0, 0,0,0,0, 0,0,0,0, 0,0,0,0, 0,0,0,0, 0,0,0,0, 0,0.5,2.8,0.6, 0],
  [null,1.7,0.8,0.8, 1.4,0.3,0,0, 0,0,0,0, 0,0,0,0, 0,0,0,0, 0,0,0,0, 0,0,0,0, 0,0,0,0, 0,0,0,0, 0,0,0.2,0, 0,0,0,0, 0,0,0,0, 0,0,0,0, 0,0,0,0, 0,0,0,0, 0,0.3,0,0, 0]
];

var svg = d3.select("#chart");
var x = d3.scaleLinear().domain([0, 384]).range([50, 690]);
var y = d3.scaleLinear().domain([-45, 30]).range([546, 21]);
var yR = d3.scaleLinear().domain([0, 75]).range([546, 21]);

// grid
var grid = svg.append("g").attr("shape-rendering", "crispEdges");
grid.selectAll(".v").data(dayTicks).enter().append("line")
  .attr("x1", function (d) { return Math.round(x(d)) + 0.5; })
  .attr("x2", function (d) { return Math.round(x(d)) + 0.5; })
  .attr("y1", 0).attr("y2", 600)
  .attr("stroke", "#c0c0c0");
grid.selectAll(".h").data(leftTicks.filter(function (d) { return d !== 0; })).enter().append("line")
  .attr("x1", 50).attr("x2", 690)
  .attr("y1", function (d) { return Math.round(y(d)); })
  .attr("y2", function (d) { return Math.round(y(d)); })
  .attr("stroke", "#c0c0c0")
  .attr("stroke-width", function (d) { return d % 10 === 0 ? 2 : 1; });
// separator between the two temperature panels
[-1.5, 1.5].forEach(function (o) {
  grid.append("line").attr("x1", 50).attr("x2", 690)
    .attr("y1", Math.round(y(0)) + o).attr("y2", Math.round(y(0)) + o)
    .attr("stroke", "#a0a0a0");
});

// series
var cross = d3.symbol().type(d3.symbolCross).size(9);
function drawSeries(g, data, yScale, color, width, marks) {
  var line = d3.line()
    .defined(function (d) { return d != null; })
    .x(function (d, i) { return x(hours[i]); })
    .y(function (d) { return yScale(d); });
  var p = g.append("path").datum(data)
    .attr("d", line)
    .attr("fill", "none")
    .attr("stroke", color)
    .attr("stroke-width", width)
    .attr("stroke-linejoin", "round");
  if (marks) {
    p.attr("shape-rendering", "crispEdges");
    var pts = data.map(function (d, i) { return [i, d]; }).filter(function (q) { return q[1] != null; });
    g.selectAll(null).data(pts).enter().append("path")
      .attr("d", cross)
      .attr("shape-rendering", "crispEdges")
      .attr("transform", function (q) { return "translate(" + x(hours[q[0]]) + "," + yScale(q[1]) + ")"; })
      .attr("fill", color);
  }
}

var panels = [
  { pert: t850Pert, ctrl: t850Ctrl, gfs: t850Gfs, mean: t850Mean, scale: y },
  { pert: t500Pert, ctrl: t500Ctrl, gfs: t500Gfs, mean: t500Mean, scale: y },
  { pert: rrPert, ctrl: rrCtrl, gfs: rrGfs, mean: rrMean, scale: yR }
];
var plot = svg.append("g");
panels.forEach(function (p) {
  p.pert.forEach(function (s, k) { drawSeries(plot, s, p.scale, pertColors[k], 1, true); });
  drawSeries(plot, p.ctrl, p.scale, "#0000ff", 3, false);
  drawSeries(plot, p.gfs, p.scale, "#000000", 3, false);
  drawSeries(plot, p.mean, p.scale, "#ff0000", 5, false);
});

// frame
var frame = svg.append("g").attr("shape-rendering", "crispEdges").attr("stroke", "#000");
frame.append("line").attr("x1", 50.5).attr("x2", 50.5).attr("y1", 0).attr("y2", 600);
frame.append("line").attr("x1", 690.5).attr("x2", 690.5).attr("y1", 0).attr("y2", 600);
frame.append("line").attr("x1", 50).attr("x2", 691).attr("y1", 600.5).attr("y2", 600.5);

// axes
var axL = svg.append("g").attr("transform", "translate(19,0)")
  .call(d3.axisLeft(y).tickValues(leftTicks).tickSize(0).tickPadding(0));
axL.select(".domain").remove();
axL.selectAll("text").attr("text-anchor", "start").attr("x", 0).attr("dy", "0.45em")
  .style("font-family", "'Liberation Sans', Arial, sans-serif").style("font-size", "11.5px");

var axR = svg.append("g").attr("transform", "translate(710,0)")
  .call(d3.axisRight(yR).tickValues(rightTicks).tickSize(0).tickPadding(0));
axR.select(".domain").remove();
axR.selectAll("text").attr("x", 0).attr("dy", "0.45em")
  .style("font-family", "'Liberation Sans', Arial, sans-serif").style("font-size", "11.5px");

var axB = svg.append("g").attr("transform", "translate(0,629)")
  .call(d3.axisBottom(x).tickValues(dayTicks).tickFormat(function (d, i) { return dayLabels[i]; }).tickSize(0));
axB.select(".domain").remove();
axB.selectAll("text").attr("transform", "rotate(-90)").attr("text-anchor", "start")
  .attr("x", 0).attr("y", 9.5).attr("dy", 0)
  .style("font-family", "'DejaVu Sans Mono', monospace").style("font-size", "9.5px");

// panel titles and units
svg.append("text").attr("x", 60).attr("y", 124).text("Temp. 850hPa");
svg.append("text").attr("x", 60).attr("y", 284).text("Temp. 500hPa");
svg.append("text").attr("x", 60).attr("y", 515).text("Précipitations");
svg.append("text").attr("x", 20).attr("y", 610).text("(°C)");
svg.append("text").attr("x", 711).attr("y", 610).text("(mm)");

// legend
var leg = svg.append("g");
leg.append("line").attr("x1", 35).attr("x2", 65).attr("y1", 637.5).attr("y2", 637.5).attr("stroke", "#ff0000").attr("stroke-width", 4);
leg.append("text").attr("x", 75).attr("y", 642).text("Moyenne des scénarios");
leg.append("line").attr("x1", 225).attr("x2", 255).attr("y1", 636.5).attr("y2", 636.5).attr("stroke", "#0000ff").attr("stroke-width", 3);
leg.append("text").attr("x", 265).attr("y", 641).text("Run de contrôle");
leg.append("line").attr("x1", 225).attr("x2", 255).attr("y1", 646.5).attr("y2", 646.5).attr("stroke", "#000").attr("stroke-width", 3);
leg.append("text").attr("x", 265).attr("y", 651).text("Run GFS");

// snow flake symbol
var flake = leg.append("g").attr("transform", "translate(60,659)").attr("stroke", "#4aa8f0").attr("stroke-width", 1.6);
[0, 60, 120].forEach(function (a) {
  flake.append("line").attr("x1", -5).attr("x2", 5).attr("y1", 0).attr("y2", 0).attr("transform", "rotate(" + a + ")");
});
leg.append("text").attr("x", 75).attr("y", 663).text("Risque neige");
leg.append("text").attr("x", 180).attr("y", 664).text("Altitude du modele : 72m");

leg.append("text").attr("x", 368).attr("y", 656).text("20 Perturbations");
leg.selectAll(".sw").data(pertColors).enter().append("rect")
  .attr("x", function (d, i) { return 470 + i * 11; }).attr("y", 650)
  .attr("width", 10).attr("height", 6).attr("fill", function (d) { return d; });
leg.selectAll(".nb").data(pertNames).enter().append("text")
  .attr("x", function (d, i) { return 475 + i * 11; }).attr("y", 646)
  .attr("text-anchor", "middle")
  .style("font-size", "7px").style("font-weight", "bold")
  .text(function (d) { return d; });

// title block
svg.append("rect").attr("x", 20.5).attr("y", 667.5).attr("width", 419).attr("height", 31)
  .attr("fill", "none").attr("stroke", "#000").attr("stroke-width", 1.5);
svg.append("text").attr("x", 30).attr("y", 681).style("font-weight", "bold").style("font-size", "11.6px")
  .text("Diagramme des ensembles GEFS sur 384h : 50.8N 4.4E");
svg.append("text").attr("x", 30).attr("y", 695)
  .text("Températures 850hPa et 500hPa (°C) , précipitations (mm)");
svg.append("text").attr("x", 450).attr("y", 672).text("Ensemble GEFS du 30/07/2018 - 12Z");
svg.append("text").attr("x", 450).attr("y", 695).style("font-weight", "bold").style("font-size", "11.5px")
  .text("Copyright 2018 Meteociel.fr");
</script>
</body>
</html>
